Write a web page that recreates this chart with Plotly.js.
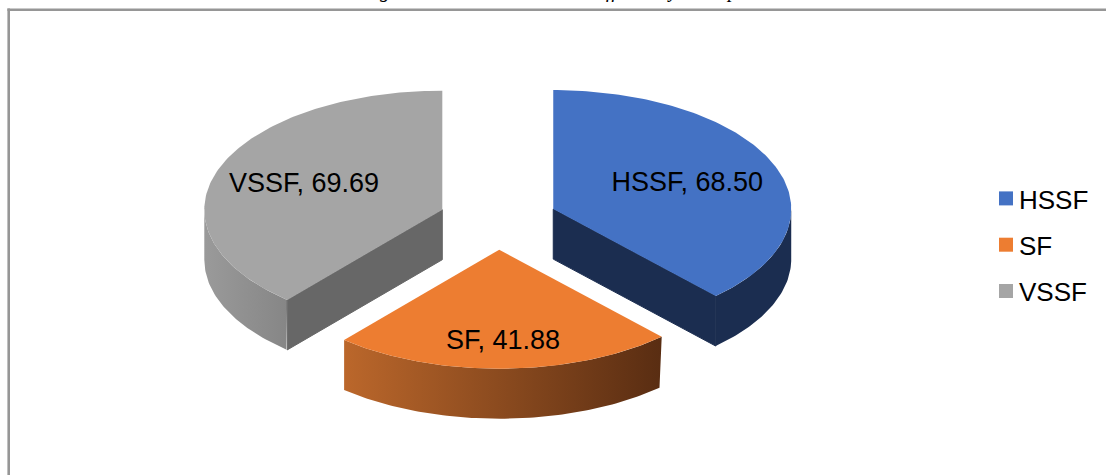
<!DOCTYPE html>
<html>
<head>
<meta charset="utf-8">
<script src="https://cdn.plot.ly/plotly-3.0.1.min.js"></script>
<style>html,body{margin:0;padding:0;background:#fff;overflow:hidden}#chart{width:1106px;height:475px}</style>
</head>
<body>
<div id="chart"></div>
<script>
// Data
const categories = ['HSSF', 'SF', 'VSSF'];
const values = [68.50, 41.88, 69.69];
const captionFragments = ['g', 'ff', 'y', 'p'];

// Styles
const topColors = ['#4472c4', '#ed7d31', '#a5a5a5'];
const wallScales = [
  [[0, '#1b2d50'], [1, '#1b2d50']],
  [[0, '#bb672b'], [1, '#592d12']],
  [[0, '#9a9a9a'], [1, '#868686']]
];
const cutColors = ['#1b2d50', '#592d12', '#676767'];
const FONT = '"Liberation Sans", Arial, sans-serif';

// Pie projection (pixel-unit axes)
const CX = 498, CY = 220, RX = 238, RY = 119, DEPTH = 50, EXPLODE = 59.4;
const labelRadius = [0.605, 0.765, 0.62];
const LABEL_DY = 1.5;
const captionX = [385, 613, 672, 732];

const total = values.reduce((a, b) => a + b, 0);
const rad = d => d * Math.PI / 180;
let cursor = 0;
const slices = values.map(v => {
  const a0 = cursor, a1 = cursor + v / total * 360;
  cursor = a1;
  const mid = (a0 + a1) / 2;
  return {a0, a1, mid,
    cx: CX + EXPLODE * Math.sin(rad(mid)),
    cy: CY - EXPLODE * 0.5 * Math.cos(rad(mid))};
});
const pt = (s, a, dz = 0) => [s.cx + RX * Math.sin(rad(a)), s.cy - RY * Math.cos(rad(a)) + dz];

const base = {type: 'scatter', mode: 'lines', fill: 'toself', line: {width: 0},
  hoverinfo: 'skip', showlegend: false};
const traces = [];

slices.forEach((s, i) => {
  // Outer wall: the part of the rim that faces the viewer
  const lo = Math.max(s.a0, 90), hi = Math.min(s.a1, 270);
  if (hi > lo) {
    const xs = [], ys = [];
    for (let a = lo; a <= hi; a += 1) { const p = pt(s, a); xs.push(p[0]); ys.push(p[1]); }
    const e1 = pt(s, hi); xs.push(e1[0]); ys.push(e1[1]);
    const e2 = pt(s, hi, DEPTH); xs.push(e2[0]); ys.push(e2[1]);
    for (let a = hi; a >= lo; a -= 1) { const p = pt(s, a, DEPTH); xs.push(p[0]); ys.push(p[1]); }
    traces.push(Object.assign({}, base, {x: xs, y: ys,
      fillcolor: wallScales[i][0][1],
      fillgradient: {type: 'horizontal', colorscale: wallScales[i]}}));
  }
  // Cut faces that are visible
  const faces = [];
  if (Math.sin(rad(s.a1)) > 0 || (s.a1 > 180 && s.a1 < 270 && i === 2)) faces.push(s.a1);
  if (s.a0 > 180 && s.a0 < 270) faces.push(s.a0);
  faces.forEach(a => {
    const p = pt(s, a), q = pt(s, a, DEPTH);
    traces.push(Object.assign({}, base, {
      x: [s.cx, p[0], q[0], s.cx, s.cx],
      y: [s.cy, p[1], q[1], s.cy + DEPTH, s.cy],
      fillcolor: cutColors[i],
      line: {width: 1, color: cutColors[i]}}));
  });
  // Top surface
  const xs = [s.cx], ys = [s.cy];
  for (let a = s.a0; a <= s.a1; a += 1) { const p = pt(s, a); xs.push(p[0]); ys.push(p[1]); }
  const e = pt(s, s.a1); xs.push(e[0], s.cx); ys.push(e[1], s.cy);
  traces.push(Object.assign({}, base, {x: xs, y: ys, fillcolor: topColors[i]}));
});

// Data labels
traces.push({type: 'scatter', mode: 'text', hoverinfo: 'skip', showlegend: false,
  x: slices.map((s, i) => s.cx + RX * labelRadius[i] * Math.sin(rad(s.mid))),
  y: slices.map((s, i) => s.cy - RY * labelRadius[i] * Math.cos(rad(s.mid)) + LABEL_DY),
  text: categories.map((c, i) => c + ', ' + values[i].toFixed(2)),
  textposition: 'middle center',
  textfont: {family: FONT, size: 27, color: '#000'}});

// Legend entries
categories.forEach((c, i) => traces.push({type: 'scatter', mode: 'markers', name: c,
  legendgroup: c, x: [null], y: [null],
  marker: {symbol: 'square', size: 14, color: topColors[i]}}));

const hidden = {visible: false, fixedrange: true};
const frameColor = '#969696';
const layout = {
  width: 1106, height: 475, margin: {l: 0, r: 0, t: 0, b: 0},
  paper_bgcolor: '#fff', plot_bgcolor: '#fff',
  xaxis: Object.assign({range: [0, 1106]}, hidden),
  yaxis: Object.assign({range: [475, 0]}, hidden),
  legend: {x: 979 / 1106, xanchor: 'left', y: 1 - 175 / 475, yanchor: 'top',
    font: {family: FONT, size: 26, color: '#000'}, tracegroupgap: 9.5,
    bgcolor: 'rgba(0,0,0,0)', itemclick: false, itemdoubleclick: false},
  shapes: [
    {type: 'line', xref: 'x', yref: 'y', x0: 8.7, x1: 8.7, y0: 8.5, y1: 475, layer: 'below',
      line: {color: frameColor, width: 2.6}},
    {type: 'line', xref: 'x', yref: 'y', x0: 7.4, x1: 1106, y0: 9.7, y1: 9.7, layer: 'below',
      line: {color: frameColor, width: 2.6}}
  ],
  annotations: captionFragments.map((t, i) => ({
    text: t, xref: 'x', yref: 'y', x: captionX[i], y: 0, yanchor: 'bottom', xanchor: 'center',
    yshift: -4, showarrow: false,
    font: {family: '"Liberation Serif", "Times New Roman", serif', size: 20, color: '#000', style: 'italic'}
  }))
};
Plotly.newPlot('chart', traces, layout, {displayModeBar: false, staticPlot: true}).then(gd => {
  // Sit each legend swatch closer to its label, as in the reference
  gd.querySelectorAll('.legend .legendpoints').forEach(n => n.setAttribute('transform', 'translate(7,0)'));
});
</script>
</body>
</html>
